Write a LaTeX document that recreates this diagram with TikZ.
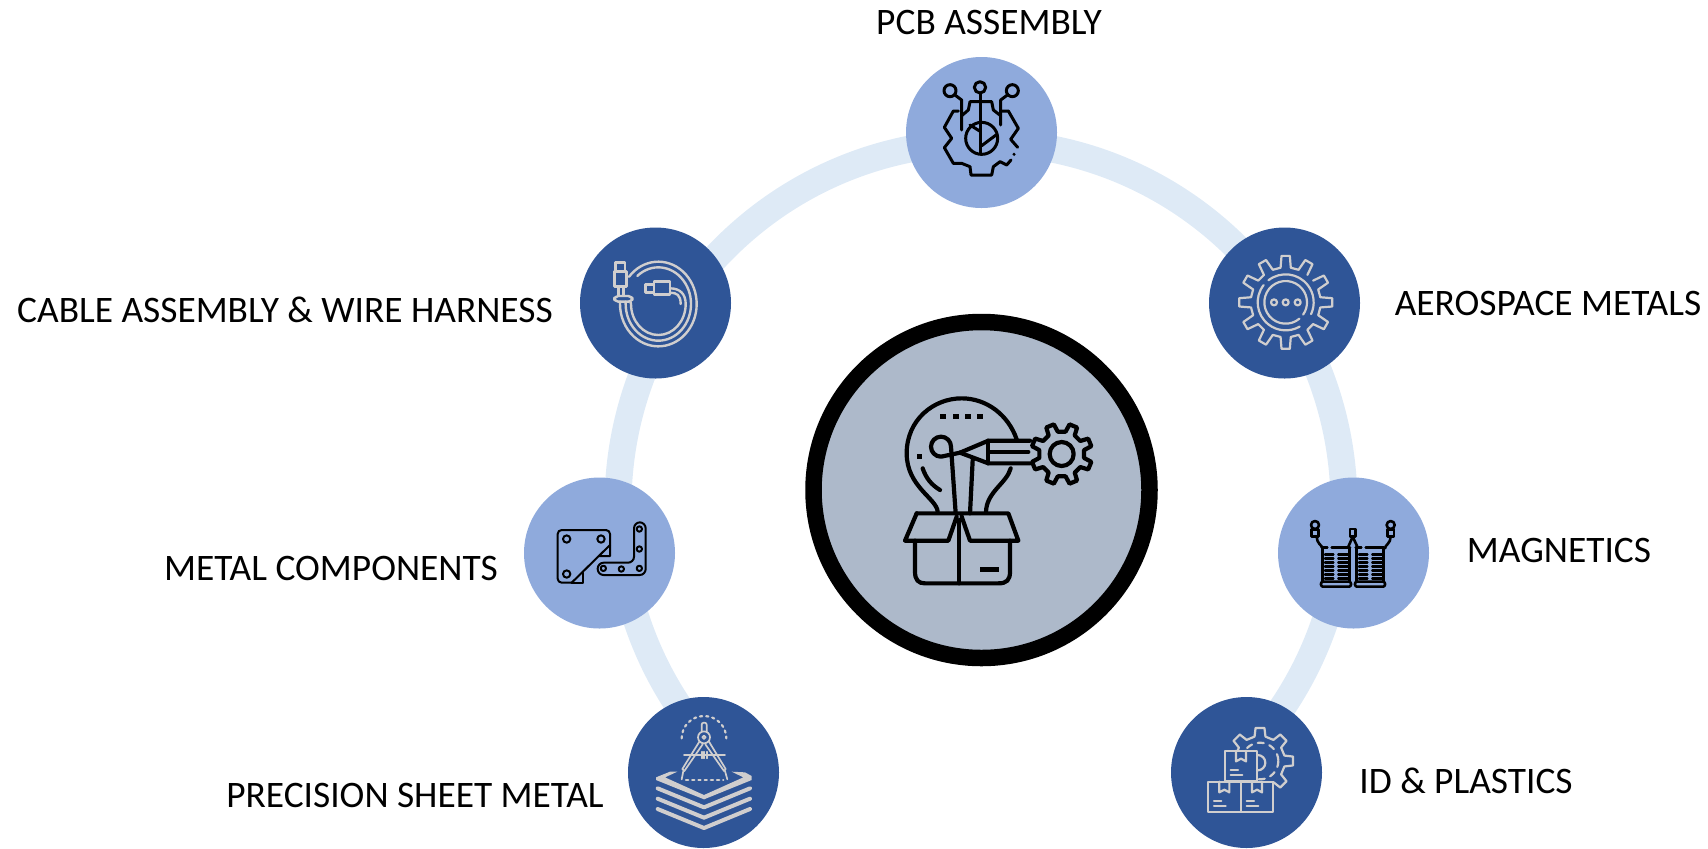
\documentclass[tikz,border=0pt]{standalone}
\usepackage{fontspec}
\setmainfont{Carlito}
\usepackage{tikz}

\definecolor{ringblue}{HTML}{DEEAF6}
\definecolor{paleblue}{HTML}{8FAADC}
\definecolor{deepblue}{HTML}{2F5597}
\definecolor{hubgrey}{HTML}{ADB9CA}
\definecolor{inkgrey}{HTML}{D0CECE}

\tikzset{
	disc/.style={circle, inner sep=0pt, minimum size=75.5pt},
	palediscnode/.style={disc, fill=paleblue},
	deepdiscnode/.style={disc, fill=deepblue},
	hubnode/.style={circle, inner sep=0pt, minimum size=168pt, fill=hubgrey, draw=black, line width=8.25pt},
	tag/.style={inner sep=0pt, font=\fontsize{18.7}{22}\selectfont},
	zoomed/.style={x=0.16667pt, y=-0.16667pt, line join=round, line cap=round},
	blackink/.style={color=black, line width=#1},
	greyink/.style={color=inkgrey, line width=#1},
}

% gear outline: options, centre x, centre y, teeth, outer r, inner r, rotation, end of path
\newcommand{\gearpt}[2]{({\gcx+#2*cos(\grot+(\t+#1)*360/\gteeth)},{\gcy+#2*sin(\grot+(\t+#1)*360/\gteeth)})}
\newcommand{\gearline}[8]{
	\def\gcx{#2}\def\gcy{#3}\def\gteeth{#4}\def\grot{#7}
	\def\t{0}
	\draw[#1] \gearpt{-0.28}{#6} \foreach \t in {1,...,\gteeth} {
		-- \gearpt{-1.28}{#6} -- \gearpt{-1.17}{#5} -- \gearpt{-0.83}{#5} -- \gearpt{-0.72}{#6}
	} #8;
}

\begin{document}
\begin{tikzpicture}[x=0.5pt, y=-0.5pt]

% canvas %{{{2

	\useasboundingbox (0,0) rectangle (1708,848);

% ring %{{{2

	\draw[ringblue, line width=13.5pt] (981,505) ++(45:363) arc[start angle=45, end angle=-224, radius=363];

% discs %{{{2

	\node[hubnode] (hub) at (981.5,490) {};

	\node[palediscnode] (pcb) at (981.5,132.5) {};
	\node[deepdiscnode] (cable) at (655.5,303) {};
	\node[deepdiscnode] (aero) at (1284.5,303) {};
	\node[palediscnode] (metal) at (599.5,553) {};
	\node[palediscnode] (magnetics) at (1353.5,553) {};
	\node[deepdiscnode] (sheet) at (703.5,772.5) {};
	\node[deepdiscnode] (plastics) at (1246.5,772.5) {};

% labels %{{{2

	\node[tag] (pcblabel) at (989,22) {PCB ASSEMBLY};
	\node[tag] (cablelabel) at (285,310) {CABLE ASSEMBLY \& WIRE HARNESS};
	\node[tag] (aerolabel) at (1548,303) {AEROSPACE METALS};
	\node[tag] (metallabel) at (331,568) {METAL COMPONENTS};
	\node[tag] (magneticslabel) at (1559,550) {MAGNETICS};
	\node[tag] (sheetlabel) at (415,795) {PRECISION SHEET METAL};
	\node[tag] (plasticslabel) at (1466,781) {ID \& PLASTICS};

% hub icon %{{{2

	\begin{scope}[shift={(780,300)}, zoomed, blackink=2.1pt]
		\draw (473,635) .. controls (470,595) and (380,560) .. (380,460)
			.. controls (380,360) and (460,295) .. (545,295)
			.. controls (620,295) and (685,345) .. (710,418);
		\draw (692,505) .. controls (680,550) and (620,575) .. (618,635);
		\foreach \x in {490,527,565,600} { \fill (\x-9,342) rectangle (\x+9,358); }
		\fill (410,462) rectangle (426,478);
		\draw (428,505) .. controls (438,535) and (455,555) .. (480,570);
		% wire and pencil
		\draw (527,640) -- (513,440) arc[start angle=0, end angle=-270, radius=30] -- (540,458);
		\draw (570,640) -- (578,480);
		\draw (540,458) -- (625,422) -- (750,422);
		\draw (540,458) -- (625,490) -- (750,490);
		\draw (625,422) -- (625,490) (625,456) -- (745,456);
		% gear
		\gearline{}{845}{462}{8}{92}{68}{22.5}{-- cycle}
		\draw (845,462) circle (36);
		% box
		\draw (410,640) -- (685,640) -- (715,722) -- (570,722) -- (545,650);
		\draw (410,640) -- (375,722) -- (505,722) -- (530,650);
		\draw (405,722) -- (405,815) .. controls (405,840) and (415,850) .. (435,850)
			-- (655,850) .. controls (680,850) and (690,840) .. (690,815) -- (690,722);
		\draw (538,660) -- (538,850);
		\fill (601,801) rectangle (657,817);
	\end{scope}

% pcb icon %{{{2

	\begin{scope}[shift={(890,50)}, zoomed, blackink=1.5pt]
		\draw (180,122) circle (18) (270,112) circle (17) (367,122) circle (18);
		\draw (272,130) -- (272,312);
		\draw (195,135) -- (215,150) -- (215,240);
		\draw (352,135) -- (332,150) -- (332,225);
		\draw (215,197) -- (235,180) -- (240,155) -- (305,155) -- (310,180) -- (332,197);
		\draw (205,183) -- (190,183) -- (163,232) -- (185,265) -- (163,293) -- (190,340)
			-- (215,340) -- (240,350) -- (243,375) -- (305,375) -- (310,350) -- (330,335)
			-- (350,345) -- (363,330);
		\draw (383,292) -- (362,268) -- (385,235) -- (355,183) -- (335,183);
		\draw (275,265) circle (48);
		\draw (240,225) -- (272,245) (275,287) -- (318,255);
		\fill (372,313) circle (5);
	\end{scope}

% cable icon %{{{2

	\begin{scope}[shift={(570,220)}, zoomed, greyink=1.2pt]
		\draw (265,252) ++(-140:115 and 127) arc[start angle=-140, end angle=180, x radius=115, y radius=127] -- (150,245);
		\draw (265,252) ++(-130:98 and 110) arc[start angle=-130, end angle=180, x radius=98, y radius=110] -- (167,245);
		\draw (181,245) -- (183,252) arc[start angle=180, end angle=0, x radius=82, y radius=93]
			.. controls (347,222) and (330,205) .. (300,205);
		\draw (300,218) .. controls (320,218) and (332,225) .. (332,252);
		\draw (137,127) rectangle (165,155);
		\draw (133,155) rectangle (170,200);
		\draw (145,200) rectangle (160,228);
		\draw[rounded corners=2pt] (133,228) rectangle (187,245);
		\draw (227,193) rectangle (252,218);
		\draw (252,185) rectangle (300,223);
	\end{scope}

% aerospace icon %{{{2

	\begin{scope}[shift={(1200,220)}, zoomed, greyink=1.1pt]
		\gearline{}{257}{247}{12}{140}{105}{-30}{}
		\draw (257,247) ++(-128:84) arc[start angle=-128, end angle=25, radius=84];
		\draw (257,247) ++(-142:84) arc[start angle=-142, end angle=-300, radius=84];
		\draw (257,247) ++(50:64) arc[start angle=50, end angle=395, radius=64];
		\foreach \x in {222,257,293} { \draw (\x,247) circle (9); }
	\end{scope}

% metal icon %{{{2

	\begin{scope}[shift={(515,470)}, zoomed, blackink=1pt]
		\draw[rounded corners=2pt] (170,338) -- (128,338) -- (128,180) -- (285,180) -- (285,225);
		\draw (170,338) -- (285,225) -- (285,258) -- (250,258);
		\draw (170,338) -- (205,338) -- (205,308);
		\draw (155,207) circle (11) (258,207) circle (11) (155,312) circle (11);
		\draw[rounded corners=3pt] (357,157) -- (392,157) -- (392,315) -- (248,315) -- (248,278)
			-- (357,278) -- cycle;
		\foreach \x/\y in {373/177,373/237,373/295,319/297,265/295} { \draw (\x,\y) circle (8); }
	\end{scope}

% magnetics icon %{{{2

	\begin{scope}[shift={(1270,470)}, zoomed, blackink=1.3pt]
		\foreach \x in {0,102} {
			\draw (\x+158,235) -- (\x+158,335) (\x+238,235) -- (\x+238,335);
			\draw (\x+155,233) -- (\x+172,233) (\x+185,233) -- (\x+240,233);
			\draw[rounded corners=1pt] (\x+153,335) rectangle (\x+243,350);
			\foreach \y in {253,265,277,289,301,313,325} {
				\draw (\x+165,\y) -- (\x+190,\y) (\x+205,\y) -- (\x+233,\y);
			}
		}
		\draw (135,165) circle (12) (362,165) circle (12);
		\draw (125,178) rectangle (145,200) (352,178) rectangle (372,200) (240,177) rectangle (257,200);
		\draw (140,200) .. controls (140,220) and (155,225) .. (158,235);
		\draw (362,200) .. controls (362,220) and (345,225) .. (345,235);
		\draw (248,200) -- (235,230) (248,200) -- (262,230);
	\end{scope}

% sheet metal icon %{{{2

	\begin{scope}[shift={(620,690)}, zoomed, greyink=0.85pt]
		\draw[dotted, line width=1.1pt] (185,145) arc[start angle=180, end angle=360, radius=67];
		\draw[dotted, line width=1.1pt] (198,270) -- (310,270);
		\draw[rounded corners=1pt] (245,125) -- (245,98) -- (260,98) -- (260,125);
		\draw (252,142) circle (18) (252,142) circle (5);
		\draw (238,155) -- (187,237) -- (193,243) -- (248,163);
		\draw (267,155) -- (317,237) -- (312,243) -- (256,163);
		\draw (190,243) -- (185,268) (315,243) -- (322,268);
		\draw (192,195) -- (315,195);
		\foreach \x in {245,252,260} { \draw (\x,185) -- (\x,205); }
		\fill (108,262) -- (150,245) -- (172,245) -- (135,262) -- (252,315) -- (370,262) -- (335,245)
			-- (375,247) -- (395,258) -- (395,270) -- (252,328) -- (108,270) -- cycle;
		\foreach \y in {0,31,62} {
			\draw[line width=2pt] (113,295+\y) -- (252,352+\y) -- (390,295+\y);
		}
	\end{scope}

% plastics icon %{{{2

	\begin{scope}[shift={(1165,690)}, zoomed, greyink=1.1pt]
		\gearline{}{285}{213}{8}{100}{75}{-90}{-- cycle}
		\draw[dashed] (285,213) circle (55);
		\draw (278,195) arc[start angle=-90, end angle=90, radius=23];
		\foreach \x/\y in {180/182,130/275,228/275} {
			\draw[fill=deepblue] (\x,\y) rectangle +(97,92);
			\draw (\x+33,\y) -- (\x+33,\y+32) -- (\x+48,\y+24) -- (\x+63,\y+32) -- (\x+63,\y);
			\draw (\x+17,\y+58) -- +(22,0) (\x+17,\y+72) -- +(35,0);
		}
	\end{scope}

% closing %{{{2

\end{tikzpicture}
\end{document}
